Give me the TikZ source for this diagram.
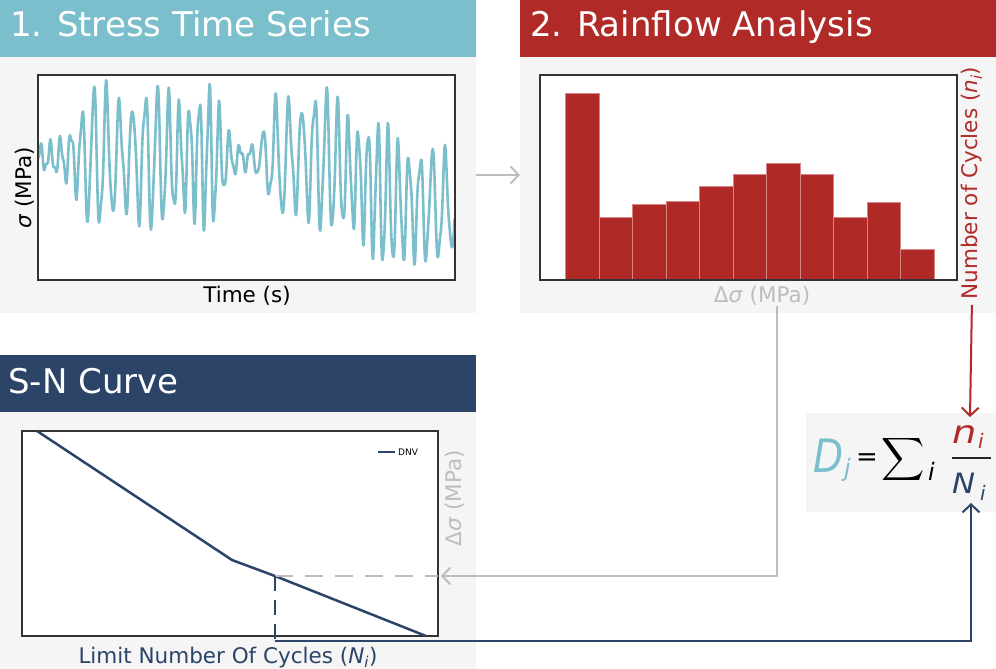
\documentclass[tikz,border=0pt]{standalone}
\usepackage{fontspec}
\setmainfont{DejaVu Sans}
\usepackage{graphicx}
\usetikzlibrary{arrows.meta}
\definecolor{cteal}{HTML}{7BBFCC}
\definecolor{cred}{HTML}{B02B28}
\definecolor{cnavy}{HTML}{2B4468}
\definecolor{cbg}{HTML}{F5F5F5}
\definecolor{cline}{HTML}{BDBDBD}
\definecolor{cbar}{HTML}{AF2A27}
\definecolor{cbaredge}{HTML}{D88585}
\newcommand{\myfs}[1]{\fontsize{#1}{#1}\selectfont}
\begin{document}
\begin{tikzpicture}[x=1pt, y=-1pt,
  header/.style={anchor=north west, inner sep=0, outer sep=0, minimum width=476pt, minimum height=57pt},
  panel/.style={anchor=north west, fill=cbg, inner sep=0, outer sep=0, minimum width=476pt, minimum height=256pt},
  plotbox/.style={anchor=north west, draw=black!80, line width=1.2pt, fill=white, inner sep=0, outer sep=0},
  htext/.style={anchor=base west, text=white, font=\myfs{34}, inner sep=0},
  axlabel/.style={font=\myfs{21.5}, inner sep=0},
  conn/.style={line width=2pt},
  tip/.style={-{Straight Barb[length=8pt,width=17pt]}},
  sig/.style={cteal, line width=2.6pt, line join=round},
  histbar/.style={fill=cbar, draw=cbaredge, line width=0.7pt},
  declare function={
    ssf(\v)=\v*\v*(3-2*\v);
    envf(\u)=1.1*(62-52*max(1-(\u/0.12)^2,0)-50*max(1-((\u-0.5)/0.08)^2,0)-18*ssf(min(max((\u-0.88)/0.12,0),1)))*(0.86+0.14*sin(360*frac(7.3*\u+0.2)));
    cenf(\u)=158+48*ssf(min(max((\u-0.65)/0.25,0),1));
    phf(\u)=37*\u+1+0.35*sin(360*frac(2.5*\u));
    sigf(\u)=cenf(\u)-envf(\u)*(sin(360*frac(phf(\u)))+0.18*sin(360*frac(2.2*phf(\u)+0.3)))+3*sin(360*frac(91*\u));
  }]
\useasboundingbox (0,0) rectangle (996,669);

% ---------- panel 1 ----------
\node[header, fill=cteal] (h1) at (0,0) {};
\node[panel] (p1) at (0,57) {};
\node[htext] (t1) at (10,37) {1. Stress Time Series};
\node[plotbox, minimum width=417pt, minimum height=205pt] (b1) at (38,75) {};
\begin{scope}
  \clip (38,75) rectangle (455,280);
  \draw[sig] plot[domain=0:1, samples=700, variable=\u] ({38+417*\u}, {sigf(\u)});
\end{scope}
\draw[black!80, line width=1.2pt] (38,75) rectangle (455,280);
\node[axlabel, anchor=base] (ltime) at (247,302) {Time (s)};
\node[axlabel, rotate=90] (lsig) at (25,188) {\textit{σ} (MPa)};

% ---------- panel 2 ----------
\node[header, fill=cred] (h2) at (520,0) {};
\node[panel] (p2) at (520,57) {};
\node[htext] (t2) at (530,37) {2. Rainflow Analysis};
\node[plotbox, minimum width=417pt, minimum height=205pt] (b2) at (540,75) {};
\foreach \h [count=\k from 0] in {93.3,217.3,204,201.7,186.7,174,163.3,174,217.3,202,249}
  \draw[histbar] ({565.7+33.51*\k},280) rectangle ({565.7+33.51*(\k+1)},\h);
\draw[black!80, line width=1.2pt] (540,75) rectangle (957,280);
\node[axlabel, anchor=base, text=cline] (ldsig) at (762,302) {Δ\textit{σ} (MPa)};
\node[axlabel, rotate=90, text=cred] (lncyc) at (972,183) {Number of Cycles (\textit{n}\textsubscript{\textit{i}})};

% ---------- panel 3 ----------
\node[header, fill=cnavy] (h3) at (0,355) {};
\node[anchor=north west, fill=cbg, inner sep=0, outer sep=0, minimum width=476pt, minimum height=257pt] (p3) at (0,412) {};
\node[htext] (t3) at (8,393) {S-N Curve};
\node[plotbox, minimum width=416pt, minimum height=205pt] (b3) at (22,431) {};
\coordinate (snpt) at (275,576);
\begin{scope}
  \clip (22,431) rectangle (438,636);
  \draw[cnavy, line width=2.5pt] (37,431) -- (232,560) -- (snpt) -- (426,636);
\end{scope}
\draw[cnavy, line width=2pt] (378,452) -- (395,452);
\node[anchor=west, font=\myfs{9}, inner sep=0] (leg) at (398,452) {DNV};
\node[axlabel, rotate=90, text=cline] (ldsig3) at (455,498) {Δ\textit{σ} (MPa)};
\node[axlabel, anchor=base, text=cnavy] (llim) at (228,663) {Limit Number Of Cycles (\textit{N}\textsubscript{\textit{i}})};

% ---------- formula ----------
\node[anchor=north west, fill=cbg, inner sep=0, outer sep=0, minimum width=190pt, minimum height=99pt] (fbox) at (806,413) {};
\node[anchor=base west, inner sep=0, text=cteal, font=\myfs{46}\itshape] (fD) at (813,472) {\scalebox{0.85}[1]{D}};
\node[anchor=base west, inner sep=0, text=cteal, font=\myfs{24}\itshape] (fj) at (844,476) {j};
\node[inner sep=0, font=\myfs{26}] (feq) at (867,460) {=};
\node[inner sep=0] (fsum) at (903,459) {\scalebox{3}{$\displaystyle\sum$}};
\node[anchor=base west, inner sep=0, font=\myfs{24}\itshape] (fi) at (928,480) {i};
\draw[line width=1.8pt, black!85] (952,458) -- (991,458);
\node[anchor=base west, inner sep=0, text=cred, font=\myfs{32}\itshape] (fn) at (952,443) {\scalebox{1.2}[1]{n}};
\node[anchor=base west, inner sep=0, text=cred, font=\myfs{20}\itshape] (fni) at (978,448) {i};
\node[anchor=base west, inner sep=0, text=cnavy, font=\myfs{28}\itshape] (fN) at (952,493) {\scalebox{1.1}[1]{N}};
\node[anchor=base west, inner sep=0, text=cnavy, font=\myfs{20}\itshape] (fNi) at (980,500) {i};

% ---------- connectors ----------
\draw[conn, cline, tip] ([yshift=10pt]p1.east) -- ([yshift=10pt]p2.west);
\coordinate (gtop) at (777,306);
\coordinate (gend) at (441,576);
\draw[conn, cline, tip] (gtop) -- (gtop |- gend) -- (gend);
\draw[conn, cline, dash pattern=on 18pt off 12pt] (snpt) -- (b3.east |- snpt);
\coordinate (nlow) at (275,641);
\coordinate (nend) at (971,503);
\draw[conn, cnavy, dash pattern=on 15pt off 9pt] (snpt) -- (nlow);
\draw[conn, cnavy, tip] (nlow) -- (nend |- nlow) -- (nend);
\coordinate (rend) at (970,417);
\draw[conn, cred, tip, shorten <=6pt] (lncyc.west |- 0,299) -- (rend);
\end{tikzpicture}
\end{document}
